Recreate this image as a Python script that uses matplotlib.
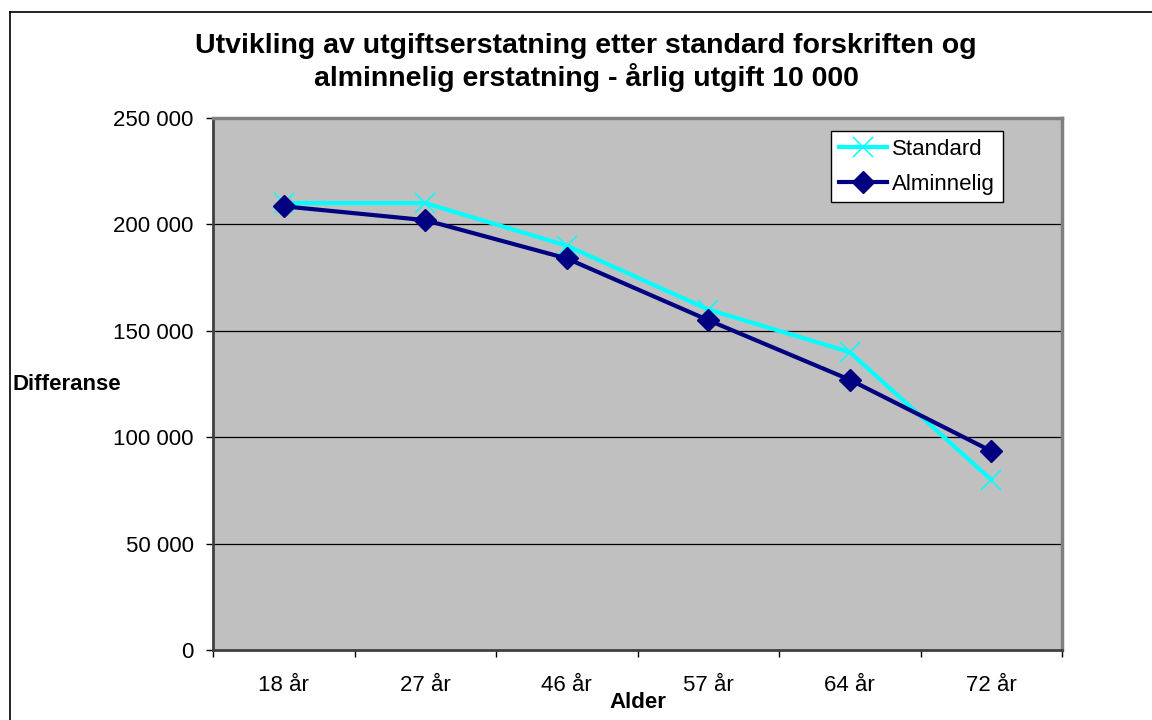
import matplotlib
matplotlib.use("Agg")
import matplotlib.pyplot as plt
from matplotlib.lines import Line2D
from matplotlib.ticker import FuncFormatter, FixedLocator

plt.rcParams['font.family'] = ['Liberation Sans', 'DejaVu Sans']

ages = ["18 år", "27 år", "46 år", "57 år", "64 år", "72 år"]
standard = [210000, 210000, 190000, 160000, 140000, 80000]
alminnelig = [208500, 202000, 184000, 155000, 127000, 93500]
y_ticks = [0, 50000, 100000, 150000, 200000, 250000]

W, H = 1152, 720
fig = plt.figure(figsize=(W / 100, H / 100), dpi=100)
fig.patch.set_facecolor('white')

# outer chart frame (left and top edges)
fig.add_artist(Line2D([10 / W, 10 / W], [0, 1 - 12 / H],
                      transform=fig.transFigure, color='black', lw=1.2))
fig.add_artist(Line2D([10 / W, 1], [1 - 12 / H, 1 - 12 / H],
                      transform=fig.transFigure, color='black', lw=1.2))

ax = fig.add_axes([213 / W, 70 / H, (1062 - 213) / W, (650 - 118) / H])
ax.set_facecolor('#c0c0c0')

x = list(range(len(ages)))
ax.set_xlim(-0.5, len(ages) - 0.5)
ax.set_ylim(0, 250000)

for v in y_ticks[1:-1]:
    ax.axhline(v, color='black', lw=0.9, zorder=1)

ax.plot(x, standard, color='#00ffff', lw=3, marker='x', markersize=15,
        markeredgewidth=1.1, label='Standard', zorder=3)
ax.plot(x, alminnelig, color='#000080', lw=3, marker='D', markersize=11,
        label='Alminnelig', zorder=4)

ax.set_yticks(y_ticks)
ax.yaxis.set_major_formatter(FuncFormatter(lambda v, p: f"{int(v):,}".replace(",", " ")))
ax.tick_params(axis='y', direction='out', length=5, width=1, labelsize=16, pad=9)

ax.set_xticks(x)
ax.set_xticklabels(ages)
ax.xaxis.set_minor_locator(FixedLocator([i - 0.5 for i in range(len(ages) + 1)]))
ax.tick_params(axis='x', which='major', length=0, labelsize=16, pad=18)
ax.tick_params(axis='x', which='minor', direction='out', length=5, width=1)

for side in ('top', 'right'):
    ax.spines[side].set_color('#808080')
    ax.spines[side].set_linewidth(2.5)
for side in ('left', 'bottom'):
    ax.spines[side].set_color('#404040')
    ax.spines[side].set_linewidth(2)

fig.text(637.5 / W, 1 - 703 / H, "Alder", ha='center', va='center',
         fontsize=16, fontweight='bold')
fig.text(13 / W, 1 - 384 / H, "Differanse", ha='left', va='center',
         fontsize=16, fontweight='bold')

fig.text(586 / W, 1 - 46 / H,
         "Utvikling av utgiftserstatning etter standard forskriften og",
         ha='center', va='center', fontsize=20.5, fontweight='bold')
fig.text(586 / W, 1 - 77 / H,
         "alminnelig erstatning - årlig utgift 10 000",
         ha='center', va='center', fontsize=20.5, fontweight='bold')

leg = ax.legend(loc='upper left',
                bbox_to_anchor=((831 - 213) / 849, 1 - (131 - 118) / 532),
                frameon=True, fancybox=False, fontsize=16, handlelength=2.15,
                borderpad=0.35, labelspacing=0.62, handletextpad=0.25,
                borderaxespad=0)
leg.get_frame().set_edgecolor('black')
leg.get_frame().set_linewidth(1)
leg.get_frame().set_facecolor('white')
leg.get_frame().set_alpha(1)

fig.savefig("out.png", dpi=100)
